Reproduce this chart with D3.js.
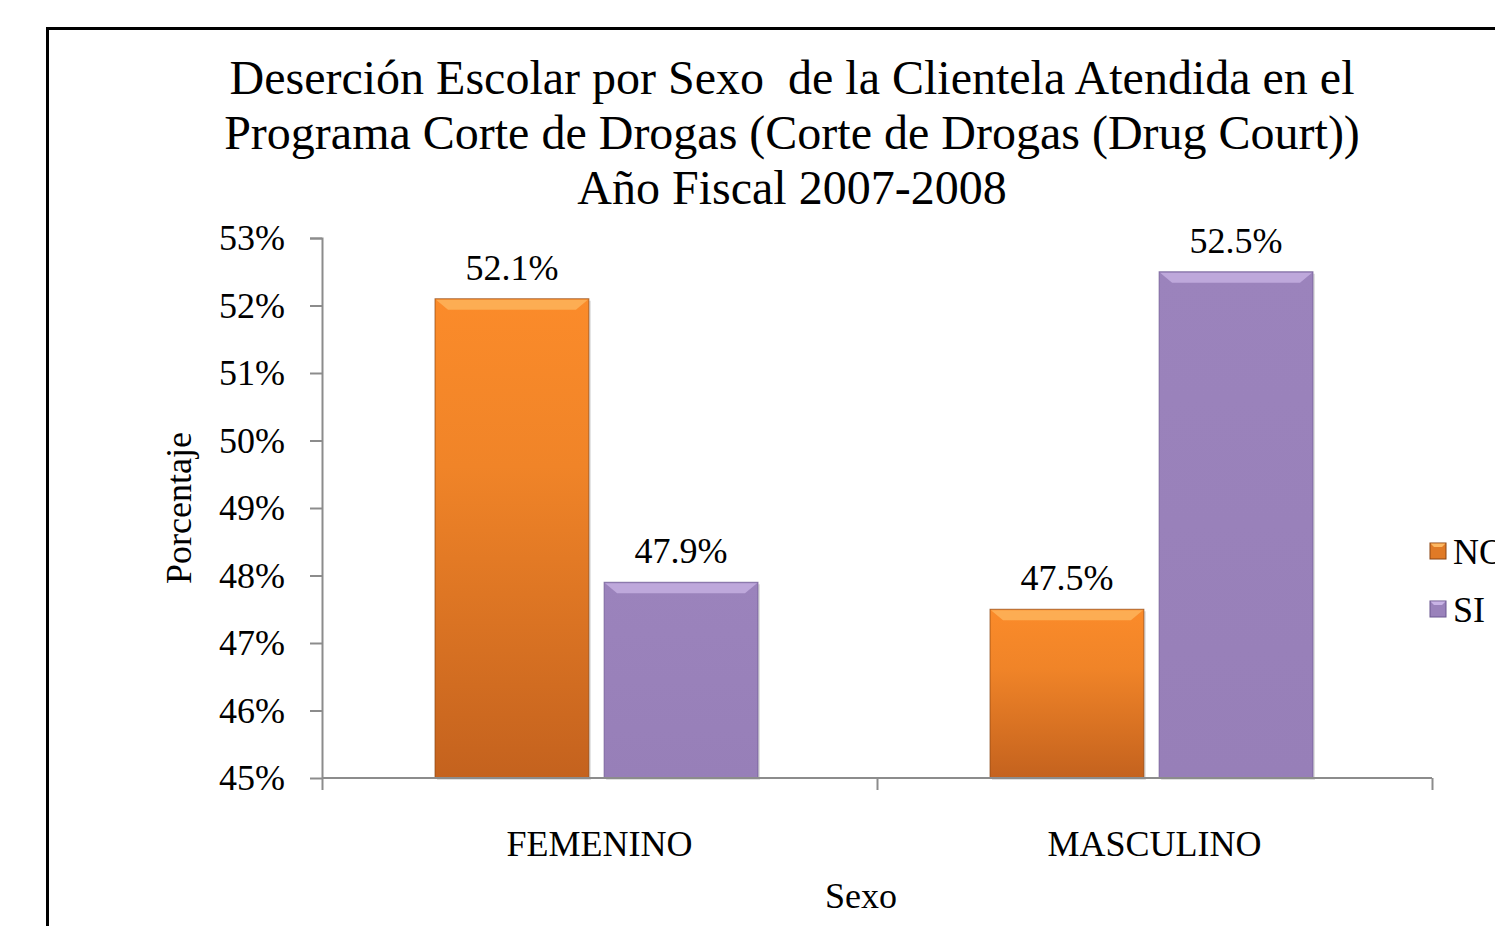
<!DOCTYPE html>
<html>
<head>
<meta charset="utf-8">
<script src="https://cdn.jsdelivr.net/npm/d3@7"></script>
<style>
  body { margin: 0; background: #fff; overflow: hidden; }
  svg { display: block; font-family: "Liberation Serif", "Times New Roman", serif; }
  .axis path, .axis line { stroke: #8c8c8c; stroke-width: 2; }
  .axis text { font-size: 36px; fill: #000; font-family: "Liberation Serif", serif; }
</style>
</head>
<body>
<div id="chart"></div>
<script>
// data
const categories = ['FEMENINO', 'MASCULINO'];
const seriesNames = ['NO', 'SI'];
const noValues = [52.1, 47.5];
const siValues = [47.9, 52.5];
const yTicks = [45, 46, 47, 48, 49, 50, 51, 52, 53];
const titleLines = [
  'Deserción Escolar por Sexo  de la Clientela Atendida en el',
  'Programa Corte de Drogas (Corte de Drogas (Drug Court))',
  'Año Fiscal 2007-2008'
];

const width = 1495;
const height = 926;
const margin = {top: 238, right: 63, bottom: 148, left: 322};
const plotW = width - margin.left - margin.right;
const plotH = height - margin.top - margin.bottom;

const data = categories.map((c, i) => ({cat: c, values: [noValues[i], siValues[i]]}));

const svg = d3.select('#chart').append('svg')
    .attr('width', width)
    .attr('height', height);

const defs = svg.append('defs');

const orange = defs.append('linearGradient')
    .attr('id', 'gradNO')
    .attr('x1', 0).attr('y1', 0).attr('x2', 0).attr('y2', 1);
orange.append('stop').attr('offset', '0%').attr('stop-color', '#fb8b2a');
orange.append('stop').attr('offset', '35%').attr('stop-color', '#f08428');
orange.append('stop').attr('offset', '100%').attr('stop-color', '#c4621e');

const purple = defs.append('linearGradient')
    .attr('id', 'gradSI')
    .attr('x1', 0).attr('y1', 0).attr('x2', 0).attr('y2', 1);
purple.append('stop').attr('offset', '0%').attr('stop-color', '#9b83bc');
purple.append('stop').attr('offset', '100%').attr('stop-color', '#977fb8');

const fills = ['url(#gradNO)', 'url(#gradSI)'];
const legendFills = ['#e07a26', '#9a82bb'];
const highlights = ['#fdb862', '#c9b4e6'];
const edges = ['#8a4512', '#6a5690'];

// chart frame
svg.append('rect')
    .attr('x', 47.5)
    .attr('y', 28.5)
    .attr('width', 1600)
    .attr('height', 1000)
    .attr('fill', 'none')
    .attr('stroke', '#000')
    .attr('stroke-width', 3);

// title
svg.append('text')
    .attr('text-anchor', 'middle')
    .attr('font-size', 48)
    .style('white-space', 'pre')
  .selectAll('tspan')
  .data(titleLines)
  .join('tspan')
    .attr('x', 792)
    .attr('y', (d, i) => 94 + i * 55)
    .text(d => d);

const g = svg.append('g')
    .attr('transform', `translate(${margin.left}, ${margin.top})`);

const x0 = d3.scaleBand().domain(categories).range([0, plotW]);
const x1 = d3.scaleBand().domain(seriesNames).range([113, 436]).paddingInner(0.09);
const y = d3.scaleLinear().domain([45, 53]).range([plotH, 0]);

// y axis
g.append('g')
    .attr('class', 'y axis')
    .call(d3.axisLeft(y).tickValues(yTicks).tickFormat(d => d + '%').tickSize(12).tickSizeOuter(12).tickPadding(25))
    .call(a => a.select('.domain').attr('d', `M-12,0.5H0.5V${plotH}`));

// bars
const groups = g.selectAll('.grp')
  .data(data)
  .join('g')
    .attr('class', 'grp')
    .attr('transform', d => `translate(${x0(d.cat)}, 0)`);

const bars = groups.selectAll('.bar')
  .data(d => d.values.map((v, i) => ({key: seriesNames[i], v, i})))
  .join('g')
    .attr('class', 'bar');

// soft shadow
bars.append('rect')
    .attr('x', d => x1(d.key) + 2)
    .attr('y', d => y(d.v) + 2)
    .attr('width', x1.bandwidth())
    .attr('height', d => plotH - y(d.v))
    .attr('fill', '#000')
    .attr('opacity', 0.12);

bars.append('rect')
    .attr('x', d => x1(d.key))
    .attr('y', d => y(d.v))
    .attr('width', x1.bandwidth())
    .attr('height', d => plotH - y(d.v))
    .attr('fill', d => fills[d.i])
    .attr('stroke', d => edges[d.i])
    .attr('stroke-width', 1)
    .attr('stroke-opacity', 0.7);

// bevel highlight on top
bars.append('path')
    .attr('d', d => {
      const bx = x1(d.key), by = y(d.v), bw = x1.bandwidth();
      return `M${bx + 1},${by + 1}H${bx + bw - 1}L${bx + bw - 13},${by + 11}H${bx + 13}Z`;
    })
    .attr('fill', d => highlights[d.i])
    .attr('opacity', 0.75);

// data labels
bars.append('text')
    .attr('x', d => x1(d.key) + x1.bandwidth() / 2)
    .attr('y', d => y(d.v) - 19)
    .attr('text-anchor', 'middle')
    .attr('font-size', 36)
    .text(d => d.v.toFixed(1) + '%');

// x axis
g.append('g')
    .attr('class', 'x axis')
    .attr('transform', `translate(0, ${plotH})`)
    .call(d3.axisBottom(x0).tickSize(0).tickPadding(52))
    .call(a => a.select('.domain').attr('d', `M0.5,0H${plotW}`));

g.select('.x.axis').selectAll('.sep')
  .data([0, ...categories.map(c => x0(c) + x0.bandwidth())])
  .join('line')
    .attr('class', 'sep')
    .attr('x1', d => d + 0.5).attr('x2', d => d + 0.5)
    .attr('y1', 0).attr('y2', 12)
    .attr('stroke', '#8c8c8c')
    .attr('stroke-width', 2);

// axis titles
svg.append('text')
    .attr('transform', 'translate(191, 508) rotate(-90)')
    .attr('text-anchor', 'middle')
    .attr('font-size', 36)
    .text('Porcentaje');

svg.append('text')
    .attr('x', 861)
    .attr('y', 908)
    .attr('text-anchor', 'middle')
    .attr('font-size', 36)
    .text('Sexo');

// legend
const legend = svg.append('g')
    .attr('transform', 'translate(1430, 543)');

const items = legend.selectAll('.item')
  .data(seriesNames)
  .join('g')
    .attr('class', 'item')
    .attr('transform', (d, i) => `translate(0, ${i * 58})`);

items.append('rect')
    .attr('width', 16)
    .attr('height', 16)
    .attr('fill', (d, i) => legendFills[i])
    .attr('stroke', (d, i) => edges[i])
    .attr('stroke-width', 1);

items.append('path')
    .attr('d', 'M0.5,0.5H15.5L12,4H4Z')
    .attr('fill', (d, i) => highlights[i]);

items.append('text')
    .attr('x', 23)
    .attr('y', 21)
    .attr('font-size', 36)
    .text(d => d);
</script>
</body>
</html>
